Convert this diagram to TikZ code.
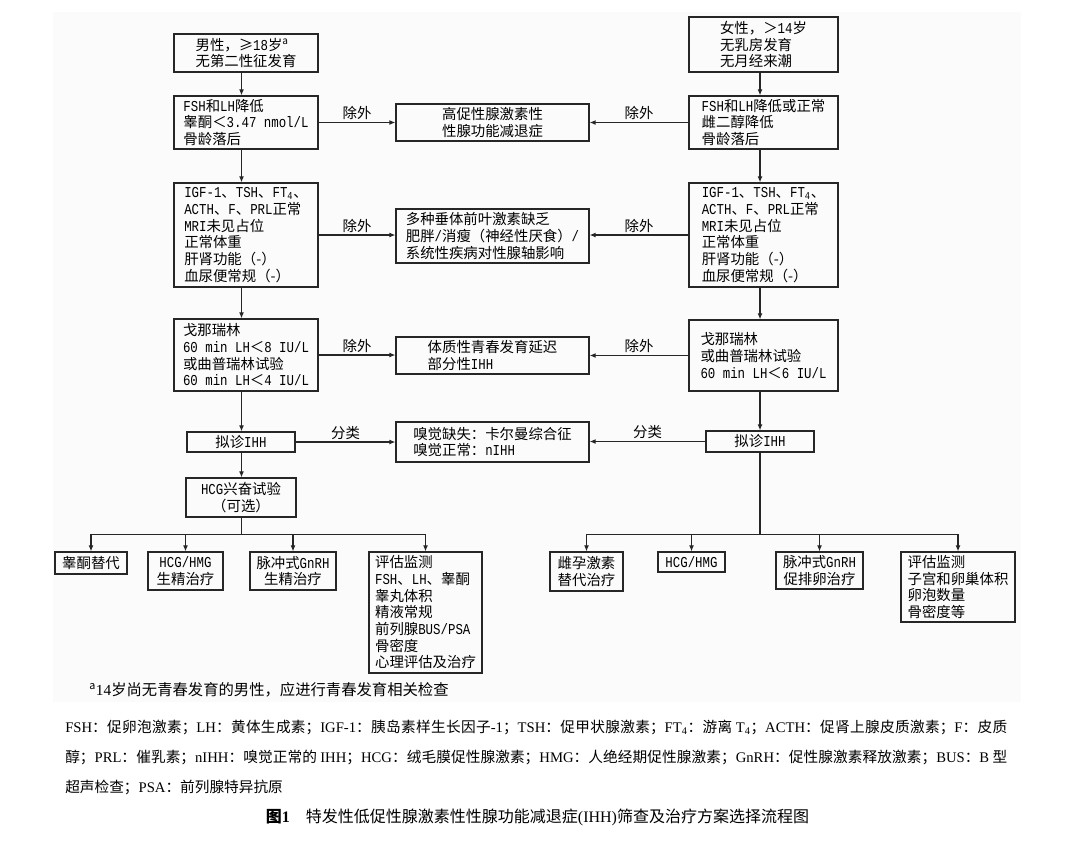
\documentclass[tikz,border=0pt]{standalone}
\usepackage{fontspec}
\setmainfont{Noto Sans CJK SC}
\newfontfamily\monofnt[Scale=1.05,FakeStretch=0.82]{Liberation Mono}
\newfontfamily\serfnt{Liberation Serif}
\newcommand\LM[1]{{\monofnt #1}}
\newcommand\TR[1]{{\serfnt #1}}
\usetikzlibrary{arrows.meta}
\begin{document}
\begin{tikzpicture}[x=0.75pt,y=-0.75pt,
  box/.style={draw=black!85, line width=0.9pt, inner sep=0pt, align=left,
    font=\fontsize{10.8}{12.5}\selectfont},
  cbox/.style={box, align=center},
  sz/.style 2 args={minimum width=#1*0.75pt, minimum height=#2*0.75pt},
  arr/.style={draw=black!85, line width=0.8pt, -{Latex[length=4.5pt,width=3.6pt]}},
  ln/.style={draw=black!85, line width=0.8pt},
  lab/.style={font=\fontsize{10.8}{12.5}\selectfont, inner sep=1.5pt}]
\fill[white] (0,0) rectangle (1080,847);
\useasboundingbox (0,0) rectangle (1080,847);
\fill[black!1.5] (53,12) rectangle (1021,702);

% left column
\node[box, sz={144}{38}] (L1) at (246,53) {男性，≥\LM{18}岁\textsuperscript{a}\\无第二性征发育};
\node[box, sz={144}{53}] (L2) at (246,122.5) {\LM{FSH}和\LM{LH}降低\\睾酮＜\LM{3.47~nmol/L}\\骨龄落后};
\node[box, sz={144}{104}] (L3) at (246,235) {\LM{IGF-1}、\LM{TSH}、\LM{FT}\textsubscript{\LM{4}}、\\\LM{ACTH}、\LM{F}、\LM{PRL}正常\\\LM{MRI}未见占位\\正常体重\\肝肾功能（-）\\血尿便常规（-）};
\node[box, sz={144}{72}] (L4) at (246,355) {戈那瑞林\\\LM{60~min~LH}＜\LM{8~IU/L}\\或曲普瑞林试验\\\LM{60~min~LH}＜\LM{4~IU/L}};
\node[cbox, sz={108}{20}] (L5) at (241,442) {拟诊\LM{IHH}};
\node[cbox, sz={110}{39}] (L6) at (241,497.5) {\LM{HCG}兴奋试验\\（可选）};

% middle column
\node[box, sz={193}{37}] (M1) at (492.5,122.5) {高促性腺激素性\\性腺功能减退症};
\node[box, sz={193}{54}] (M2) at (492.5,236) {多种垂体前叶激素缺乏\\肥胖\LM{/}消瘦（神经性厌食）\LM{/}\\系统性疾病对性腺轴影响};
\node[box, sz={193}{37}] (M3) at (492.5,355.5) {体质性青春发育延迟\\部分性\LM{IHH}};
\node[box, sz={193}{40}] (M4) at (492.5,442) {嗅觉缺失：卡尔曼综合征\\嗅觉正常：\LM{nIHH}};

% right column
\node[box, sz={149}{55}] (R1) at (763.5,44.5) {女性，＞\LM{14}岁\\无乳房发育\\无月经来潮};
\node[box, sz={149}{53}] (R2) at (763.5,122.5) {\LM{FSH}和\LM{LH}降低或正常\\雌二醇降低\\骨龄落后};
\node[box, sz={149}{104}] (R3) at (763.5,235) {\LM{IGF-1}、\LM{TSH}、\LM{FT}\textsubscript{\LM{4}}、\\\LM{ACTH}、\LM{F}、\LM{PRL}正常\\\LM{MRI}未见占位\\正常体重\\肝肾功能（-）\\血尿便常规（-）};
\node[box, sz={149}{71}] (R4) at (763.5,355.5) {戈那瑞林\\或曲普瑞林试验\\\LM{60~min~LH}＜\LM{6~IU/L}};
\node[cbox, sz={108}{21}] (R5) at (760,441.5) {拟诊\LM{IHH}};

% bottom left
\node[cbox, sz={72}{22}] (B1) at (91,563) {睾酮替代};
\node[cbox, sz={75}{38}] (B2) at (185.5,571) {\LM{HCG/HMG}\\生精治疗};
\node[cbox, sz={86}{38}] (B3) at (293,571) {脉冲式\LM{GnRH}\\生精治疗};
\node[box, sz={113}{121}] (B4) at (425.5,612.5) {评估监测\\\LM{FSH}、\LM{LH}、睾酮\\睾丸体积\\精液常规\\前列腺\LM{BUS/PSA}\\骨密度\\心理评估及治疗};

% bottom right
\node[cbox, sz={73}{39}] (RB1) at (586.5,571.5) {雌孕激素\\替代治疗};
\node[cbox, sz={67}{20}] (RB2) at (691.5,562) {\LM{HCG/HMG}};
\node[cbox, sz={87}{37}] (RB3) at (819.5,570.5) {脉冲式\LM{GnRH}\\促排卵治疗};
\node[box, sz={114}{70}] (RB4) at (958,587) {评估监测\\子宫和卵巢体积\\卵泡数量\\骨密度等};

% vertical connectors
\coordinate (cL) at (241.5,0);
\coordinate (cR) at (760,0);
\draw[arr] (L1.south -| cL) -- (L2.north -| cL);
\draw[arr] (L2.south -| cL) -- (L3.north -| cL);
\draw[arr] (L3.south -| cL) -- (L4.north -| cL);
\draw[arr] (L4.south -| cL) -- (L5.north -| cL);
\draw[arr] (L5.south -| cL) -- (L6.north -| cL);
\draw[arr] (R1.south -| cR) -- (R2.north -| cR);
\draw[arr] (R2.south -| cR) -- (R3.north -| cR);
\draw[arr] (R3.south -| cR) -- (R4.north -| cR);
\draw[arr] (R4.south -| cR) -- (R5.north -| cR);

% branches
\coordinate (jL) at (241.5,534.5);
\coordinate (jR) at (760,534.5);
\draw[ln] (L6.south -| cL) -- (jL);
\draw[arr] (jL) -| (B1.north);
\draw[arr] (jL) -| (B2.north);
\draw[arr] (jL) -| (B3.north);
\draw[arr] (jL) -| (B4.north);
\draw[ln] (R5.south -| cR) -- (jR);
\draw[arr] (jR) -| (RB1.north);
\draw[arr] (jR) -| (RB2.north);
\draw[arr] (jR) -| (RB3.north);
\draw[arr] (jR) -| (RB4.north);

% horizontal connectors
\draw[arr] (L2.east) -- node[lab,above] (t1) {除外} (L2.east -| M1.west);
\draw[arr] (R2.west) -- node[lab,above] (t2) {除外} (R2.west -| M1.east);
\draw[arr] (L3.east) -- node[lab,above] (t3) {除外} (L3.east -| M2.west);
\draw[arr] (R3.west) -- node[lab,above] (t4) {除外} (R3.west -| M2.east);
\draw[arr] (L4.east) -- node[lab,above] (t5) {除外} (L4.east -| M3.west);
\draw[arr] (R4.west) -- node[lab,above] (t6) {除外} (R4.west -| M3.east);
\draw[arr] (L5.east) -- node[lab,above] (t7) {分类} (L5.east -| M4.west);
\draw[arr] (R5.west) -- node[lab,above] (t8) {分类} (R5.west -| M4.east);

% footnote
\node[anchor=west, inner sep=0pt, font=\fontsize{11.5}{13}\selectfont] (fn) at (89,690)
  {\textsuperscript{a}\TR{14}岁尚无青春发育的男性，应进行青春发育相关检查};

% caption
\node[anchor=north west, inner sep=0pt, text width=706.5pt, align=justify,
  font=\fontsize{11}{22.5}\selectfont] (cap) at (65,720)
  {\XeTeXlinebreaklocale "zh"\XeTeXlinebreakskip=0pt plus 1.5pt minus 0.4pt
  \TR{FSH}：促卵泡激素；\TR{LH}：黄体生成素；\TR{IGF-1}：胰岛素样生长因子\TR{-1}；\TR{TSH}：促甲状腺激素；\TR{FT\textsubscript{4}}：游离 \TR{T\textsubscript{4}}；\TR{ACTH}：促肾上腺皮质激素；\TR{F}：皮质\linebreak
  醇；\TR{PRL}：催乳素；\TR{nIHH}：嗅觉正常的 \TR{IHH}；\TR{HCG}：绒毛膜促性腺激素；\TR{HMG}：人绝经期促性腺激素；\TR{GnRH}：促性腺激素释放激素；\TR{BUS}：\TR{B} 型\linebreak
  超声检查；\TR{PSA}：前列腺特异抗原};

% title
\node[anchor=center, inner sep=0pt, font=\fontsize{12}{14}\selectfont] (title) at (537.5,817)
  {{\bfseries 图\TR{\bfseries 1}}\hspace{1em}特发性低促性腺激素性性腺功能减退症\TR{(IHH)}筛查及治疗方案选择流程图};
\end{tikzpicture}
\end{document}
